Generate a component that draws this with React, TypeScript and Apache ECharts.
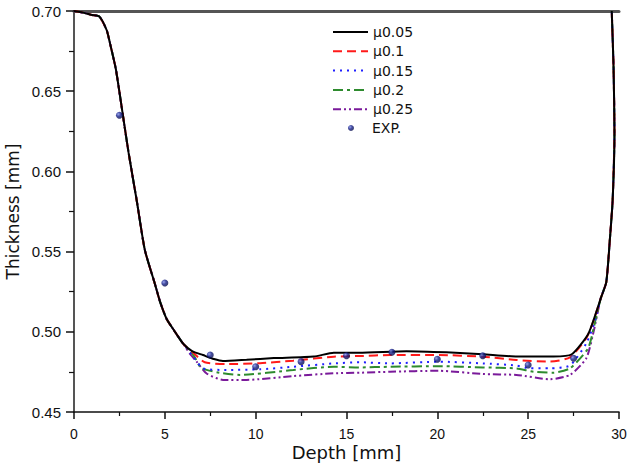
import React, { useEffect, useRef } from "react";
import * as echarts from "echarts";

const seriesNames = ["μ0.05", "μ0.1", "μ0.15", "μ0.2", "μ0.25"];

const leftBranch: number[][] = [
  [0, 0.7], [0.5, 0.699], [1.0, 0.6975], [1.4, 0.6965], [1.8, 0.688], [2.0, 0.679],
  [2.3, 0.664], [2.6, 0.642], [3.0, 0.612], [3.45, 0.582], [3.9, 0.551], [4.45, 0.53],
  [4.73, 0.519], [5.1, 0.508], [5.5, 0.501], [6.0, 0.4927],
];

const rightBranch: number[][] = [
  [29.0, 0.521], [29.3, 0.531], [29.5, 0.558], [29.65, 0.582], [29.75, 0.624],
  [29.7, 0.665], [29.6, 0.7],
];

const mu005: number[][] = [
  [6.5, 0.488], [7.1, 0.4855], [7.7, 0.483], [8.2, 0.4818], [9.5, 0.4826], [11, 0.4836],
  [13.2, 0.4846], [14.3, 0.4869], [15.7, 0.4869], [18.3, 0.4879], [20.5, 0.4872],
  [22.5, 0.486], [24.4, 0.4846], [26.4, 0.4846], [27.4, 0.486], [28.3, 0.4985], [28.77, 0.513],
];
const mu01: number[][] = [
  [6.5, 0.4875], [7.2, 0.481], [8.4, 0.4799], [10.24, 0.4804], [12.07, 0.482],
  [14.3, 0.4845], [15.74, 0.4849], [17.4, 0.4855], [20.1, 0.4855], [22.5, 0.4845],
  [24.35, 0.4824], [26.2, 0.4814], [27.3, 0.4841], [28.2, 0.496], [28.6, 0.507],
];
const mu015: number[][] = [
  [6.6, 0.484], [7.1, 0.4772], [8.4, 0.4762], [10.24, 0.4766], [12.07, 0.4782],
  [14.3, 0.4803], [15.74, 0.481], [17.4, 0.4803], [20.1, 0.4814], [22.5, 0.4803],
  [24.35, 0.479], [25.1, 0.4772], [26.2, 0.4772], [27.3, 0.479], [28.2, 0.4928], [28.65, 0.506],
];
const mu02: number[][] = [
  [6.6, 0.485], [7.0, 0.4775], [8.0, 0.4745], [9.15, 0.4731], [12.07, 0.4762],
  [14.3, 0.4782], [15.74, 0.4778], [17.4, 0.4782], [20.1, 0.4786], [22.5, 0.4778],
  [24.35, 0.4772], [25.3, 0.4751], [26.4, 0.4745], [27.3, 0.4772], [28.3, 0.4897], [28.7, 0.507],
];
const mu025: number[][] = [
  [6.4, 0.486], [6.75, 0.4814], [7.3, 0.474], [8.2, 0.47], [9.5, 0.47], [12.07, 0.4724],
  [14.3, 0.4741], [15.74, 0.4745], [17.4, 0.4751], [20.1, 0.4757], [22.5, 0.4737],
  [24.35, 0.4731], [26.2, 0.4704], [27.3, 0.4731], [28.2, 0.4835], [28.6, 0.5],
];

const expDepth = [2.5, 5, 7.5, 10, 12.5, 15, 17.5, 20, 22.5, 25, 27.5];
const expThickness = [0.635, 0.5304, 0.4855, 0.4782, 0.4814, 0.4851, 0.4872, 0.4829, 0.4851, 0.4793, 0.4835];

const xTicks = [0, 5, 10, 15, 20, 25, 30];
const yTicks = [0.45, 0.5, 0.55, 0.6, 0.65, 0.7];

const colors = ["#000000", "#ff1a1a", "#1f1fff", "#2e8b2e", "#7a1a9a"];
const dashes: any[] = ["solid", [9, 5], [2, 5], [10, 4, 3, 4], [8, 3, 2, 3, 2, 3]];

export default function App() {
  const ref = useRef<HTMLDivElement>(null);
  useEffect(() => {
    const chart = echarts.init(ref.current!, null, { renderer: "svg" });
    const curves = [mu005, mu01, mu015, mu02, mu025];
    const lineSeries = curves.map((c, i) => ({
      name: seriesNames[i],
      type: "line",
      data: [...leftBranch, ...c, ...rightBranch],
      showSymbol: false,
      symbol: "none",
      smooth: 0.2,
      lineStyle: { color: colors[i], width: 2, type: dashes[i] },
      itemStyle: { color: colors[i] },
      z: 5 - i,
    }));
    const legendText = { fontFamily: "DejaVu Sans", fontSize: 14, color: "#111", lineHeight: 14 };
    const ball = {
      type: "radial",
      x: 0.35,
      y: 0.35,
      r: 0.7,
      colorStops: [
        { offset: 0, color: "#7f8fe8" },
        { offset: 0.45, color: "#16208a" },
        { offset: 1, color: "#060b45" },
      ],
    };
    const option: any = {
      animation: false,
      backgroundColor: "#ffffff",
      grid: { left: 74, right: 13, top: 11, bottom: 56, outerBoundsMode: "none", containLabel: false },
      legend: [
        {
          orient: "vertical",
          left: 332,
          top: 25,
          padding: 0,
          itemWidth: 35,
          itemHeight: 14,
          itemGap: 5.3,
          textStyle: legendText,
          data: seriesNames.map((n) => ({
            name: n,
            itemStyle: { color: "rgba(0,0,0,0)", borderWidth: 0, opacity: 0 },
          })),
        },
        {
          orient: "vertical",
          left: 348,
          top: 121,
          padding: 0,
          itemWidth: 6,
          itemHeight: 6,
          textStyle: { ...legendText, padding: [0, 0, 0, 13] },
          data: ["EXP."],
        },
      ],
      xAxis: [
        {
          type: "value",
          min: xTicks[0],
          max: xTicks[xTicks.length - 1],
          interval: 5,
          name: "Depth [mm]",
          nameLocation: "middle",
          nameGap: 31,
          nameMoveOverlap: false,
          nameTextStyle: { fontFamily: "DejaVu Sans", fontSize: 18, color: "#111" },
          axisLine: { lineStyle: { color: "#111", width: 1.5 } },
          axisTick: { show: true, inside: false, length: 7, lineStyle: { color: "#111", width: 1.5 } },
          minorTick: { show: true, splitNumber: 2, length: 4, lineStyle: { color: "#111", width: 1.2 } },
          axisLabel: { fontFamily: "Liberation Sans", fontSize: 14, color: "#111", margin: 15 },
          splitLine: { show: false },
        },
        {
          type: "value",
          position: "top",
          min: 0,
          max: 30,
          interval: 5,
          axisLine: { show: true, lineStyle: { color: "#555", width: 3 } },
          axisTick: { show: false },
          axisLabel: { show: false },
          splitLine: { show: false },
        },
      ],
      yAxis: [
        {
          type: "value",
          min: yTicks[0],
          max: yTicks[yTicks.length - 1],
          interval: 0.05,
          name: "Thickness [mm]",
          nameLocation: "middle",
          nameGap: 53,
          nameMoveOverlap: false,
          nameTextStyle: { fontFamily: "DejaVu Sans", fontSize: 17, color: "#111" },
          axisLine: { show: true, lineStyle: { color: "#111", width: 1.5 } },
          axisTick: { show: true, inside: false, length: 8, lineStyle: { color: "#111", width: 1.5 } },
          minorTick: { show: true, splitNumber: 2, length: 5, lineStyle: { color: "#111", width: 1.2 } },
          axisLabel: {
            fontFamily: "Liberation Sans",
            fontSize: 15,
            color: "#111",
            margin: 13,
            formatter: (v: number) => v.toFixed(2),
          },
          splitLine: { show: false },
        },
        {
          type: "value",
          position: "right",
          min: 0.45,
          max: 0.7,
          interval: 0.05,
          axisLine: { show: true, lineStyle: { color: "#555", width: 2 } },
          axisTick: { show: false },
          axisLabel: { show: false },
          splitLine: { show: false },
        },
      ],
      series: [
        ...lineSeries,
        {
          name: "EXP.",
          type: "scatter",
          data: expDepth.map((d, i) => [d, expThickness[i]]),
          symbol: "circle",
          symbolSize: 7,
          itemStyle: { color: ball },
          z: 10,
        },
      ],
    };
    chart.setOption(option);
    return () => chart.dispose();
  }, []);
  return (
    <div
      ref={ref}
      style={{ position: "absolute", left: 0, top: 0, width: 632, height: 468 }}
    />
  );
}
